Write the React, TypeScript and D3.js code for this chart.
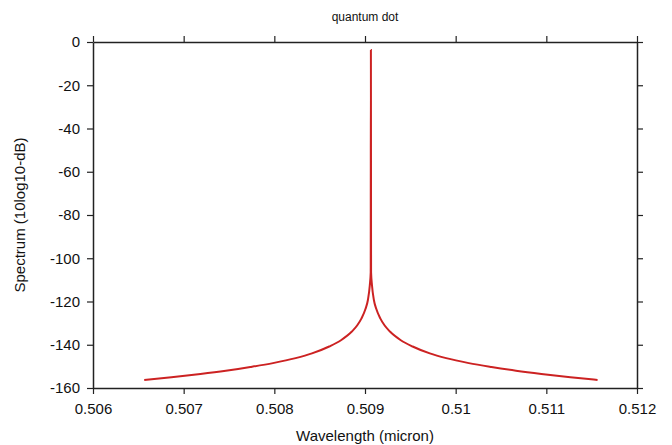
import React, { useEffect, useRef } from 'react';
import * as d3 from 'd3';

// values
const wavelength = [
  0.506565, 0.506865, 0.507185, 0.507465, 0.507735, 0.507985, 0.508235, 0.508415, 0.508605,
  0.508735, 0.508855, 0.508915, 0.50896, 0.509005, 0.509032, 0.509053, 0.509063,
  0.509065,
  0.509067, 0.509077, 0.509098, 0.509125, 0.50917, 0.509215, 0.509275, 0.509395,
  0.509525, 0.509715, 0.509895, 0.510145, 0.510395, 0.510665, 0.510945, 0.511265, 0.511565,
];
const spectrum = [
  -156.3, -155.0, -153.5, -152.0, -150.3, -148.5, -146.2, -144.0, -140.8,
  -137.9, -133.9, -131.0, -127.9, -123.5, -119.3, -112.5, -106.5,
  -3.7,
  -106.5, -112.5, -119.3, -123.5, -127.9, -131.0, -133.9, -137.9,
  -140.8, -144.0, -146.2, -148.5, -150.3, -152.0, -153.5, -155.0, -156.3,
];
const xTicks = [0.506, 0.507, 0.508, 0.509, 0.51, 0.511, 0.512];
const yTicks = [0, -20, -40, -60, -80, -100, -120, -140, -160];

const W = 672;
const H = 445;

const App = () => {
  const svgRef = useRef<SVGSVGElement>(null);

  useEffect(() => {
    const root = d3.select(svgRef.current);
    root.selectAll('*').remove();

    const margin = { top: 42, right: 35, bottom: 57, left: 93 };
    const innerWidth = W - margin.left - margin.right;
    const innerHeight = H - margin.top - margin.bottom;

    const svg = root.append('g').attr('transform', `translate(${margin.left},${margin.top})`);

    const x = d3.scaleLinear().domain([0.506, 0.512]).range([0, innerWidth]);
    const y = d3.scaleLinear().domain([-160, 0]).range([innerHeight, 0]);

    const fmt = (d: any) => String(+(+d).toFixed(3));
    const font = '"Liberation Sans", Arial, sans-serif';

    // axes on all four sides, ticks outward
    const styleAxis = (g: any) => {
      g.select('.domain').attr('stroke', '#222').attr('stroke-width', 1.5);
      g.selectAll('.tick line').attr('stroke', '#222').attr('stroke-width', 1.2);
      g.selectAll('.tick text')
        .attr('fill', '#111')
        .style('font-family', font)
        .style('font-size', '15px');
    };

    svg.append('g')
      .attr('transform', `translate(0,${innerHeight})`)
      .call(d3.axisBottom(x).tickValues(xTicks).tickFormat(fmt).tickSize(6).tickSizeOuter(0).tickPadding(9))
      .call(styleAxis);

    svg.append('g')
      .call(d3.axisTop(x).tickValues(xTicks).tickFormat(() => '').tickSize(6).tickSizeOuter(0))
      .call(styleAxis);

    svg.append('g')
      .call(d3.axisLeft(y).tickValues(yTicks).tickFormat(fmt).tickSize(6).tickSizeOuter(0).tickPadding(7))
      .call(styleAxis);

    svg.append('g')
      .attr('transform', `translate(${innerWidth},0)`)
      .call(d3.axisRight(y).tickValues(yTicks).tickFormat(() => '').tickSize(6).tickSizeOuter(0))
      .call(styleAxis);

    const pts = wavelength.map((w, i) => [w, spectrum[i]] as [number, number]);

    svg.append('path')
      .datum(pts)
      .attr('fill', 'none')
      .attr('stroke', '#cc2222')
      .attr('stroke-width', 2)
      .attr('d', d3.line<[number, number]>()
        .x(d => x(d[0]))
        .y(d => y(d[1]))
        .curve(d3.curveMonotoneX));

    root.append('text')
      .attr('x', margin.left + innerWidth / 2)
      .attr('y', 21)
      .attr('text-anchor', 'middle')
      .style('font-family', font)
      .style('font-size', '12px')
      .attr('fill', '#111')
      .text('quantum dot');

    root.append('text')
      .attr('x', margin.left + innerWidth / 2)
      .attr('y', 441)
      .attr('text-anchor', 'middle')
      .style('font-family', font)
      .style('font-size', '15px')
      .attr('fill', '#111')
      .text('Wavelength (micron)');

    root.append('text')
      .attr('transform', `translate(25,${margin.top + innerHeight / 2}) rotate(-90)`)
      .attr('text-anchor', 'middle')
      .style('font-family', font)
      .style('font-size', '15px')
      .attr('fill', '#111')
      .text('Spectrum (10log10-dB)');
  }, []);

  return (
    <svg
      ref={svgRef}
      width={W}
      height={H}
      style={{ position: 'absolute', left: 0, top: 0, background: '#fff' }}
    />
  );
};

export default App;
